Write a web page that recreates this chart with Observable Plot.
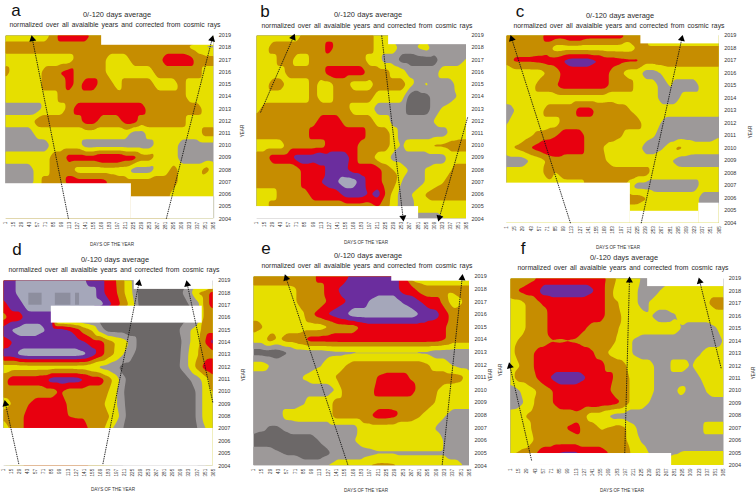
<!DOCTYPE html>
<html><head><meta charset="utf-8">
<script src="https://cdn.jsdelivr.net/npm/d3@7"></script>
<script src="https://cdn.jsdelivr.net/npm/@observablehq/plot@0.6"></script>
<style>
html,body{margin:0;padding:0;background:#fff;}
#page{position:relative;width:756px;height:493px;overflow:hidden;font-family:"Liberation Sans",sans-serif;color:#2a2a2a;}
#page svg{position:absolute;background:transparent;max-width:none;}
.lbl{position:absolute;transform:translate(-50%,-50%);white-space:nowrap;}
.t1{font-size:7.4px;word-spacing:.3px;}
.t2{font-size:6.8px;word-spacing:1.1px;}
.let{font-size:17px;color:#111;line-height:14px;}
.ax{font-size:4.6px;color:#333;}
.yr{transform:translate(-50%,-50%) rotate(-90deg);}
</style></head><body><div id="page"></div>
<script>
const years=[2019,2018,2017,2016,2015,2014,2013,2012,2011,2010,2009,2008,2007,2006,2005,2004];
const days=[1,15,29,43,57,71,85,99,113,127,141,155,169,183,197,211,225,239,253,267,281,295,309,323,337,351,365];
const bandLimits=[-1,0.5,1.5,2.5,3.5,4.5,5.5];
const bandColors=["#6c6868","#9d9999","#e6df00","#c68d00","#e8000f","#6b2d9e","#a5a7ba"];

const panelA=[
[2,2,2,2,2,2,3,4,4,4,4,3,3,3,3,3,3,3,3,3,3,3,3,3,3,2,2],
[3,3,3,3,3,3,3,3,3,3,3,3,3,3,3,3,3,3,3,3,3,3,3,2.4,2,1.4,1.4],
[2,2,2,2,2,2,2,2,2,3,3,3,3,2,2,2,3,3,3,3,4,4,4,4,3,3,3],
[3,2,2,2,2,3,3,3.6,4,3,3,3,3,2,2,2,2,2,2,3,3,3,3,3,3,2,2],
[2,2,2,2,2,3,3,3,4,3,4,4,3,3,2,3,3,3,3,2,2,2,3,2,2,2,2],
[2,2,2,2,2,2,2,3,3,3,3,3,3,3,3,3,3,3,3,3,3,3,3,2,2,2,2],
[1,1,1,1,1,2,2,2,3,4,4,4,4,4,4,4,4,4,3,3,3,3,3,3,3,2,2],
[2,2,2,2,3,3,3,3,3,3,4,4,3,3,3,4,4,3,3,3,3,3,3,2,2,2,2],
[1,1,1,1,2,2,2,2,2,2,2,2,2,2,2,2,1,1,2,2,2,2,2,2,2,3,3],
[1,1,1,1,1,1,2,2,2,2,1,1,1,1,1,1,1,1,1,2,2,2,1,1,1,1,1],
[2,2,2,2,2,2,3,3,4,4,4,4,4.6,4.6,4.6,4,4,3,3,2,2,2,1,1,1,1,1],
[1,1,1,1,2,2,3,3,3,2,2,2,2,2,2,2,1,1,1,2,2,3,2,2,2,3,2],
[1,1,1,1,2,3,3,3,4,4,4,4,4,3.4,3,3,3,3,3,3,3,3,2,2,2,1.4,2],
[3,3,3,3,3,3,3,3,3,3,3,3,3,3,3,3,3,3,3,3,3,2,2,2,2,2,2],
[3,3,3,3,3,3,3,3,3,3,3,3,3,3,3,3,3,3,3,3,3,2,2,2,2,2,2],
[3,3,3,3,3,3,3,3,3,3,3,3,3,3,3,3,3,3,3,3,3,2,2,2,2,2,2]];

const panelB=[
[2,2,2,2,2,2,3,3,3,3,3,3,3,3,3,2,2,1,1,1,1,1,1,1,1,1,1],
[2,2,3,3,3,3,3,3,3,4,3,3,3,3,3,2,2,2,1,1,1.6,2,1,1,1,1,1],
[2,2,2,3,3,2,2,3,3,3,3,3,3,3,2,2,1,1,0,0,0,0,0,1,1,1,1.6],
[1.4,2,2,2,3,3,3,3,3,4,4,4,4,4,3,3,3,2,2,1,1,1,1,2,2,2,2],
[2,2,3,3,2,2,2,3,2,2,3,3,2,2,2,3,3,3,3,2,1,1.7,1,1,1,2,2],
[2,2,2,2,2,2,2,3,2,2,3,3,3,3,3,2,2,2,2,0,0,0,1,1,1,1.6,2],
[2,3,3,3,3,3,3,3,3,3,3,3,2,2,2,1,1,1,1,0,0,0,1,1.6,2,2,2],
[3,3,3,3,3,3,3,3,4,4,4,3,3,3,3,2,2,1,1,1,1,1,1.6,2,2,2,2],
[3,3,3,3,3,3,3,4,4,4,4,4,4,4,3,3,3,2,1,1,1,1,1,1,1.7,2,2],
[2,2,2,2,3,3,3,3,3,4,4,4,4,3,3,3,3,2,1.4,2,2,2,2.7,2.7,3,3,3],
[3,3,4,4,4,5,5,5,5.6,5,5,5,4,3,3,2,2,1,1,1,1,1,1,1,2,2,2],
[3,3,3,3,3,3,4,3.6,4,5,5,4.7,4,4,4,4,3,2.5,2,1.4,1,1.6,2,2,2.4,3,3],
[3,3,3,3,3,3,4,4,4.5,5,5.5,6,6,5,4,4,3,3,1.4,1,1,1.6,2,2.4,3,3,3],
[2,2,2,3,3,3,3,4,4,4,4,5,5,5,4.4,5,3.4,2,1,1.4,2,2.6,3,3,3,3,3],
[2,2,3,3,3,3,3,3,3,3,3,3,3,3,3,3.6,3,2,1,1,2,2,2,2,2,2,2],
[1,1,1,1,1,1,1,1,1,1,1,1,1,1,1,1,1,1,1,1,1,1,1,1.4,2,2,2]];

const panelC=[
[3,3,3,3,3,4,4,4,4.6,4.6,4,4,4,4,4,3,3,3,2,2,2,2,2,2,2,2,2],
[3,3,3,3,3,3,2,2,2,2,2,2,2,2,2,2,2.6,2.6,2.6,2.6,2.6,2.6,2.6,2.6,2.6,2.6,2.6],
[3,3.7,3.7,3.7,3.8,4,4,4.6,5,5,5,4.6,4,4,3.8,3.7,3.7,3,3,3,3,3,3,3,3,3,3],
[1.4,2,2,2,2,2.6,3,3.8,4,4,4,4,4,3,2.6,2,2,1,1,1.6,2,2,2,2,2,2,2],
[2,2,2,2,3,3,3.4,4,4,4,4,4,4,3,3,3,2,2,2,1,1.6,1,1,1,2,2,2],
[2,2,2,2,2,2,2,2,2,2,2,2,2,2,2,2,2,2,2,1,1,1.4,2,2,2,2,2],
[1,1.5,2,2,2,3,3,3,3,4,4,3.3,3.4,3.6,3,2.6,2,2,2.6,2,2,2,2,2,2,2,2],
[1.4,2,2,2,2,2,2,3,3,3,3,3,3,3,3,3,3,2,2,1.4,1,1,1,1,1,1,1],
[2,2,2,2.4,2.8,3,3.4,4,4,4,3,3,3,3,2.6,2,2,2,1.6,1,1,1,1,1,1,1,1.4],
[2,2.6,3,3.6,4,4.6,4.6,4,4,4,3,3,2.4,2,2,2,2,1,1,1.4,2,2.8,2.4,2,2,2,2],
[1,1,1,1.6,2,2.6,3,3,3,3,3,3,2.6,2,2,2,2,2,2,2,1.6,1,1,1,1,1,1],
[2,2,2,2,2,3,2.4,3,3,3,3,3,3,3,3,3,3,3,2,2,2,2,2,2,2,2,2],
[2,2,2,2,2,2,2,2,2,2,3,3,3,3,3,2,1,1,1,1,1,1,1,1,2,2,2],
[2,2,2,2,2,2,2,2,2,2,2,2,2,2,2,3,3,2.6,2,2,2,2,2,2,1,1,1],
[2,2,2,2,2,2,2,2,2,2,2,2,2,2,2,2,2,2,2,2,2,2,2,2,2,2,2],
[2,2,2,2,2,2,2,2,2,2,2,2,2,2,2,2,2,2,2,2,2,2,2,2,2,2,2]];

const panelD=[
[5,5,6,6,6,6,6,6,6,6,5.6,5,5,4,3.5,2.5,1.4,0,0,0,0,0,0,0,0,0,0],
[5,5,6,6,6,6,6,6,6,6,6,6,5,4,3.6,2.5,1.5,0,0,0,0,0,0.4,1,2.6,3,4],
[4,5,5,6,6,6,6,6,6,6,6,6,6,5,4,3,2,0,0,0,0,0,0,0.5,1,3,4],
[3,4,4,5,5,5,5,0,0,0,0,0,0,0,0,0,0,0,0,0,0,0,0,0,0.5,3,2.6],
[5,5.6,6,6,6,5.6,5,5,4.6,4,3,2.4,1,0,0,0,0,0,0,0,0,0,0.6,1.4,2,3,3],
[4,4.4,5,5,5,5,5,5,5,5,4.6,4,4,3,2.4,2,1,0,0,0,0,0,0.4,1.4,2,3.5,5],
[5,5,5.8,6,6,6,6,6,6,6,5.8,5,4,3,2.3,1.4,0.6,0,0,0,0,0,0.5,1.6,2.4,3,3],
[2,2,2,2,2,2,2,2,2,2,2,1.6,1.2,1,0.7,0,0,0,0,0,0,0,0.6,1.6,2.8,4,4.6],
[3,4,4,4,4,4.2,5,5,5,5,4.6,4,4,3,2,0.6,0,0,0,0,0,0,0,0.4,1,2,3],
[3,3,3,3,3,3,3,3.6,3,3,3,3,3,2.5,1.6,0.4,0,0,0,0,0,0,0,0,0.6,2,2.6],
[2,2.5,3,3.4,4,4,4,4,3.4,3,3,3,3,2,1.6,0.5,0,0,0,0,0,0,0,0,0.6,2,2],
[3,3,3,4,4,4,4,4,3.5,3.4,3.4,3,3,2.6,2,0.6,0,0,0,0,0,0,0,0,0.6,2,2],
[1,3,3,4,4,4,4,4,4,4,4,3,3,2,1,0.4,0,0,0,0,0,0,0,0,0.4,1.5,2],
[1,3,3,4,4,4,4,4,4,4,4,3,3,2,1,0.4,0,0,0,0,0,0,0,0,0.4,1.5,2],
[1,3,3,4,4,4,4,4,4,4,4,3,3,2,1,0.4,0,0,0,0,0,0,0,0,0.4,1.5,2],
[1,3,3,4,4,4,4,4,4,4,4,3,3,2,1,0.4,0,0,0,0,0,0,0,0,0.4,1.5,2]];

const panelE=[
[3,3,3,3,3,3,3,3,4,4,4,4,5,5,5,5,5.2,5,4,2,2,2,2,2,2,2,2],
[2.3,2.3,2.3,2.3,2.3,2.4,3,3,3,4,4.4,5,5,5,5,5,5,5,4,4,3,2.7,2.7,2.7,2.7,2.7,2.7],
[2,2,2,2,2,2.4,3,3,3,3.6,4,4.4,5,5,5.6,6,6,6,5.4,5,4.6,4,4,3,2,2.4,3],
[2,2,2,2,2,2,2.4,3.4,4,4.6,5,5.4,6,6,6,6,6,6,6,6,5.5,5,4.8,4,3,3,3],
[3,2.6,2,2,2,2,2,2,2,2.4,3,3,3,3.6,4,4,4,4,4,4,4,4,4,3.6,3,3,3],
[2,2,3,2.4,3,3,3.4,4,4,4,4,4,4,4,4,4,4,4,4,4,4,4,4,3.6,3,3,3],
[0,0,0,0,0.4,1,1,1,1,1.2,1.3,1.3,1.3,1.3,1.3,1.3,1.3,1.3,1.3,1.3,1.3,1.3,1,1,1,1,1],
[2,2,1.5,1,1,1,1,1,1.4,2,2,2.4,3,3,3,3,3,3,3,3,3,2.6,2,2,1.4,1,1],
[1,1,1,1,1,1,1.6,2,2,2,2.6,3,3,3,3,3.6,3.8,3.8,3.8,3.4,3,3,3,3,3,2.8,1.8],
[1.6,1,1,1,1,1,1,1,1,1,1.6,3,3,3,3,4,4,4,4,4,3,3,2.6,2,2,2,2],
[1,1,1,1,1,1,1.4,2,2,2,3,3,3,3,3,3,3,3,3,3,3,3,2.4,2,2,2,2],
[1,1,1,1,2,2,2,2,2,2,3,3,3,3,3.4,4,4,3.8,3,3,2.6,2,2,1.6,1,1,1],
[1,0.7,0.4,0.4,0.7,1,1,1,1,1,1,1,1,2,2,2,2,2,2,2,2,2,1.4,1,1,1,1],
[0,0,0,0,0,0,0,0,0.6,1,1,1,1.4,2,2,2,2,2,2,2,2,2,2,1.4,1,1,1],
[1,1,1,0.6,0.4,0.4,0,0,0,0.3,1,1,1,1,1.2,1.4,1.4,1.4,1.4,1.4,1.4,1.4,1.4,1.4,1,1,1],
[1,1,1,1,1,1,1,1,1,1.6,2,2,2,2,2.6,2.8,2.8,2.7,2,2,2,2,2,2,2,1.6,1]];

const panelF=[
[2.6,3,3,3.4,4,4,4,4,4,4,4,4,3.2,2.4,2,2,1.4,1,1,1,1,1,1,1,1,1,1],
[3,3.6,4,4,5,5,5,5,5,5,4.6,4,3,2,2,2,1,1,1.4,2,2,2,2,2,2,2,2],
[2,2,2.6,3,3.6,4,4,4,4,4,4,4,3,2.6,2,2,1,1.6,2,2,2,2,2,2,2.4,3,3],
[2,2,2.6,3,3,4,4,4,4.6,4,4,4,3,3,2,2,2,1.6,1,1,1.4,2,2,2,2,2,2],
[2,2,2.6,3,3,4,4,4,4,3.6,3,3,3,2.6,2,2,2,2,2,2,2,1.4,1,1,1,1.4,2],
[2,2.6,3,3,3,3.45,3.4,3.45,3.4,3,3,3,3,2.4,2,1.4,1,1,1,1,1,1,1,1,1,1,1.6],
[2,3,3,3.6,4,4,4,4,4,4,3.6,3,2.4,2,2,1.4,1,1,1,1,1,1,1,1.4,2,2,2],
[2,2.4,3,3.6,4,4,4,4,4,4,4,4,3,3,2.6,2,2,2,1,1,2,2,1.4,2,2,2,2],
[2,3,3,3.4,4,4.6,5,5,5,4.6,4,4,4,3,3,2,2,2,1,1,1,1,1,1.4,2,2,2],
[1,1.4,2,2.4,3,3.4,4,4,4,4,4,4,3.6,3,3,2,2,2,1,1,1.4,1.8,1,1,1.6,2,2],
[1,1.2,1.7,2.6,3,3.4,4,4,4.6,4,4.2,4,4,3.7,3,2,2,1.4,1,1,1,1,1,1,1,1,1],
[2,2,2.6,3,3,3,3,3,3,2.6,2,2,1.4,1,1,1,1,1,1,1,1,1,0.4,1,1,1,1],
[2,2,2,3,3,3,3,3.6,4,3,3,2.4,2.6,3,2.6,1.8,1,1,1,1,1,1,1,1,2,2,2],
[1.4,2,2,2.6,3,3,3,3,3,3,3,3,3,3,2.6,2,1.4,1,1,1,1,1,1,1,1,1,1],
[2.4,2.6,2.8,3.4,4,4,4.6,4.7,4.7,4,4,4,3.5,3,3,2.2,2,1.4,1,1.2,1.4,1.6,1.6,1.6,1.6,1.6,1.6],
[3,3,3,3,4,4,5,5,5,4,4,3,3,3,3,2,2,2,2,2,2.6,2,2,2,2,2.4,2.6]];

const maskA=[{x1:169,x2:365,y1:2018.2,y2:2019},{x1:1,x2:221,y1:2004,y2:2006.87},{x1:221,x2:365,y1:2004,y2:2005.8}];
const maskB=[{x1:230,x2:365,y1:2018.25,y2:2019},{x1:1,x2:282,y1:2004,y2:2005}];
const maskC=[{x1:231,x2:365,y1:2018.33,y2:2019},{x1:1,x2:213,y1:2004,y2:2007.2},{x1:213,x2:330,y1:2004,y2:2004.95},{x1:330,x2:365,y1:2004,y2:2005.6}];
const maskD=[{x1:228,x2:365,y1:2018.28,y2:2019},{x1:1,x2:365,y1:2004,y2:2007.02},{x1:84,x2:346,y1:2015.55,y2:2016.92}];
const maskE=[{x1:234,x2:365,y1:2018.63,y2:2019}];
const maskF=[{x1:235,x2:365,y1:2018.35,y2:2019},{x1:1,x2:276,y1:2004,y2:2004.96}];

const arrowsA=[{x1:111,y1:2004,x2:48,y2:2018.7},{x1:282,y1:2004,x2:362,y2:2018.7}];
const arrowsB=[{x1:8,y1:2012.7,x2:64.6,y2:2018.84},{x1:218,y1:2019,x2:255,y2:2004.1},{x1:367,y1:2012.3,x2:318,y2:2004.1}];
const arrowsC=[{x1:110.5,y1:2004,x2:10,y2:2018.73},{x1:231.5,y1:2004,x2:301,y2:2018.73}];
const arrowsD=[{x1:27.6,y1:2004.14,x2:4.5,y2:2009},{x1:173.5,y1:2004.14,x2:236,y2:2018.78},{x1:364.4,y1:2009.13,x2:320,y2:2018.7}];
const arrowsE=[{x1:160,y1:2004.08,x2:56,y2:2018.87},{x1:319,y1:2004.08,x2:352.6,y2:2018.87}];
const arrowsF=[{x1:37,y1:2004.4,x2:0,y2:2011.97},{x1:196,y1:2005,x2:204,y2:2018.84},{x1:360.5,y1:2011.8,x2:324,y2:2018.76}];
const stripesD=[{x1:45,x2:68,y1:2017,y2:2017.97},{x1:91,x2:118,y1:2017,y2:2017.97},{x1:126,x2:133,y1:2017,y2:2017.97}];

const panels=[
 {rows:panelA,mask:maskA,arrows:arrowsA,L:4.7,R:213,T:34.7,B:218,edge:[2005.8,2004]},
 {rows:panelB,mask:maskB,arrows:arrowsB,L:256,R:466,T:34.7,B:218},
 {rows:panelC,mask:maskC,arrows:arrowsC,L:506.3,R:719,T:35,B:222.7},
 {rows:panelD,mask:maskD,arrows:arrowsD,L:3,R:212.7,T:279.7,B:465,extra:stripesD},
 {rows:panelE,mask:maskE,arrows:arrowsE,L:253,R:469,T:276,B:465.3},
 {rows:panelF,mask:maskF,arrows:arrowsF,L:510,R:723.3,T:278,B:465}
];
const page=document.getElementById("page");
const mL=12,mR=26,mT=6,mB=22;
for(const p of panels){
  const w=p.R-p.L,h=p.B-p.T;
  const pts=p.rows.flatMap((row,r)=>row.map((v,c)=>({day:days[c],year:years[r],v})));
  const heads=p.arrows.map(a=>({...a,rot:Math.atan2((a.x2-a.x1)*w/364,(a.y2-a.y1)*h/15)*180/Math.PI}));
  const marks=[
    Plot.contour(pts,{x:"day",y:"year",fill:"v",thresholds:bandLimits,interpolate:"barycentric",pixelSize:1,blur:1,stroke:"none",clip:true}),
    p.extra?Plot.rect(p.extra,{x1:"x1",x2:"x2",y1:"y1",y2:"y2",fill:"#8d8e9e"}):null,
    Plot.rect(p.mask,{x1:"x1",x2:"x2",y1:"y1",y2:"y2",fill:"white"}),
    p.edge?Plot.ruleX([365],{y1:p.edge[0],y2:p.edge[1],stroke:"#c8c8c8",strokeWidth:.7}):null,
    Plot.link(p.arrows,{x1:"x1",y1:"y1",x2:"x2",y2:"y2",stroke:"#111",strokeWidth:.9,strokeDasharray:"1.4,0.9",clip:false}),
    Plot.dot(heads,{x:"x2",y:"y2",symbol:"triangle",r:2.6,fill:"#000",stroke:"none",rotate:"rot",clip:false}),
    Plot.axisX(days,{anchor:"bottom",tickSize:0,tickPadding:3,tickRotate:-90,tickFormat:d=>String(d),label:null,fontSize:4.6,fill:"#333"}),
    Plot.axisY(years,{anchor:"right",tickSize:0,tickPadding:5,tickFormat:d=>String(d),label:null,fontSize:5.5,fill:"#333"})
  ];
  const svg=Plot.plot({
    width:w+mL+mR,height:h+mT+mB,marginLeft:mL,marginRight:mR,marginTop:mT,marginBottom:mB,
    style:{background:"transparent",fontFamily:"Liberation Sans",overflow:"visible"},
    x:{domain:[1,365]},
    y:{domain:[2004,2019]},
    color:{type:"ordinal",domain:bandLimits,range:bandColors},
    marks
  });
  svg.style.left=(p.L-mL)+"px";svg.style.top=(p.T-mT)+"px";
  page.appendChild(svg);
}
const line1="0/-120 days average",line2="normalized over all avaialble years and corrected from cosmic rays",xLabel="DAYS OF THE YEAR",yLabel="YEAR";
const letters=[["a",16,11],["b",265,12],["c",520,12],["d",17,250],["e",266,249],["f",523,249]];
const title1=[[117,14],[368,14],[620,14.5],[115,259],[368,255],[624,257]];
const title2=[[115,24],[367,24.5],[619,24.5],[114,269],[367,265],[623,267]];
const xLabels=[[112,244],[366,242],[618,247],[113,488.7],[366,490],[622,490]];
const yLabels=[[242,131],[750,132],[243,375],[490,375],[753,373],[500,370]];
function put(text,cls,x,y){const d=document.createElement("div");d.className="lbl "+cls;d.textContent=text;d.style.left=x+"px";d.style.top=y+"px";page.appendChild(d);}
letters.forEach(([t,x,y])=>put(t,"let",x,y));
title1.forEach(([x,y])=>put(line1,"t1",x,y));
title2.forEach(([x,y])=>put(line2,"t2",x,y));
xLabels.forEach(([x,y])=>put(xLabel,"ax",x,y));
yLabels.forEach(([x,y])=>put(yLabel,"ax yr",x,y));
</script></body></html>
